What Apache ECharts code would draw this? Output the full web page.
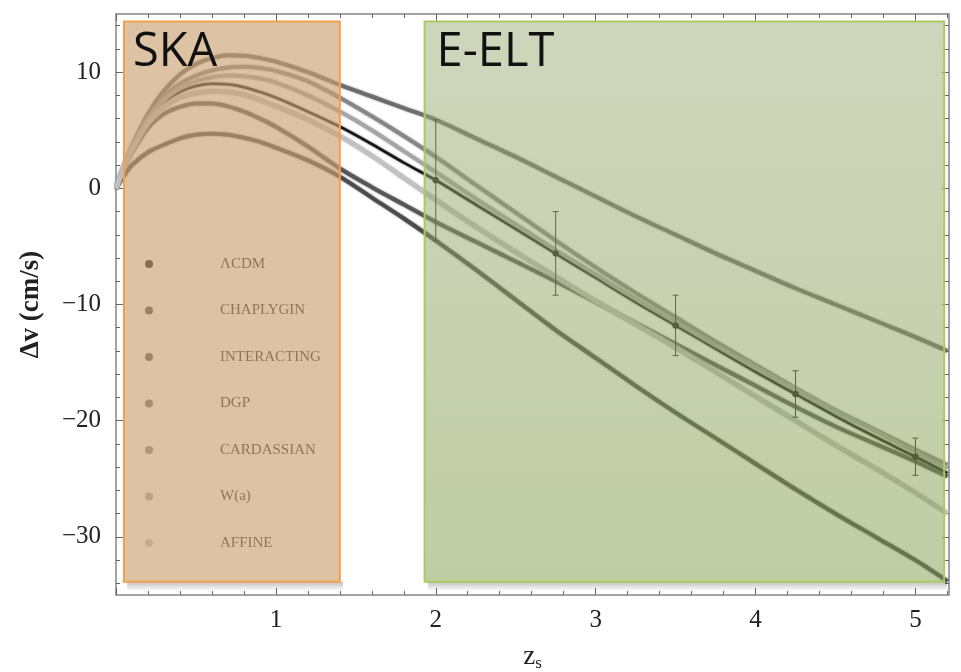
<!DOCTYPE html>
<html>
<head>
<meta charset="utf-8">
<script src="https://cdn.jsdelivr.net/npm/echarts@6/dist/echarts.min.js"></script>
<style>html,body{margin:0;padding:0;background:#fff}#c{width:961px;height:672px}</style>
</head>
<body>
<div id="c"></div>
<script>
// ---- data ----
const zGrid = [0, 0.05, 0.1, 0.2, 0.3, 0.4, 0.5, 0.6, 0.7, 0.8, 0.9, 1.0, 1.2, 1.4, 1.6, 1.8, 2.0, 2.25, 2.5, 2.75, 3.0, 3.25, 3.5, 3.75, 4.0, 4.25, 4.5, 4.75, 5.0, 5.2];
const lcdm        = [0, 1.85, 3.4, 5.9, 7.4, 8.3, 8.8, 9.0, 8.95, 8.7, 8.3, 7.8, 6.6, 5.3, 3.8, 2.2, 0.7, -1.4, -3.5, -5.6, -7.7, -9.8, -11.8, -13.8, -15.8, -17.7, -19.6, -21.4, -23.1, -24.5];
const chaplygin   = [0, 1.1, 2.0, 3.1, 3.75, 4.3, 4.6, 4.7, 4.6, 4.35, 4.0, 3.5, 2.4, 1.0, -0.8, -2.6, -4.5, -7.0, -9.6, -12.2, -14.6, -17.0, -19.3, -21.5, -23.7, -25.9, -28.0, -30.0, -32.0, -33.8];
const interacting = [0, 1.7, 3.1, 5.2, 6.4, 7.0, 7.3, 7.3, 7.05, 6.6, 6.0, 5.3, 3.6, 1.7, 0.1, -1.4, -2.9, -4.6, -6.3, -8.0, -9.8, -11.6, -13.4, -15.2, -17.0, -18.8, -20.5, -22.0, -23.5, -24.8];
const dgp         = [0, 1.9, 3.6, 6.4, 8.4, 9.8, 10.7, 11.2, 11.45, 11.4, 11.2, 10.9, 10.0, 8.9, 7.9, 6.9, 5.9, 4.3, 2.7, 1.0, -0.7, -2.4, -4.0, -5.6, -7.1, -8.6, -10.0, -11.4, -12.8, -14.0];
const cardassian  = [0, 1.9, 3.5, 6.1, 7.9, 9.0, 9.7, 10.15, 10.4, 10.45, 10.35, 10.1, 9.2, 7.8, 6.2, 4.5, 2.7, 0.3, -2.1, -4.5, -6.8, -9.0, -11.1, -13.2, -15.2, -17.2, -19.1, -20.8, -22.5, -23.8];
const wa          = [0, 1.85, 3.5, 6.0, 7.6, 8.6, 9.2, 9.55, 9.7, 9.65, 9.45, 9.1, 8.0, 6.6, 5.0, 3.2, 1.4, -0.9, -3.1, -5.3, -7.4, -9.5, -11.5, -13.5, -15.4, -17.3, -19.2, -20.9, -22.7, -24.1];
const affine      = [0, 1.8, 3.3, 5.6, 7.0, 7.8, 8.2, 8.35, 8.3, 8.05, 7.6, 7.05, 5.9, 4.5, 2.8, 0.9, -1.0, -3.3, -5.5, -7.6, -9.7, -11.7, -13.7, -15.8, -17.9, -20.0, -22.1, -24.1, -26.2, -28.0];

const seriesNames  = ['ΛCDM', 'CHAPLYGIN', 'INTERACTING', 'DGP', 'CARDASSIAN', 'W(a)', 'AFFINE'];
const seriesValues = [lcdm, chaplygin, interacting, dgp, cardassian, wa, affine];

const errZ     = [2.0, 2.75, 3.5, 4.25, 5.0];
const errV     = [0.7, -5.6, -11.8, -17.7, -23.1];
const errSigma = [5.2, 3.6, 2.6, 2.0, 1.6];

const xMajor  = [0, 1, 2, 3, 4, 5];
const xLabels = [1, 2, 3, 4, 5];
const xMinor  = [0.2, 0.4, 0.6, 0.8, 1.2, 1.4, 1.6, 1.8, 2.2, 2.4, 2.6, 2.8, 3.2, 3.4, 3.6, 3.8, 4.2, 4.4, 4.6, 4.8, 5.2];
const yMajor  = [-30, -20, -10, 0, 10];
const yMinor  = [-34, -32, -28, -26, -24, -22, -18, -16, -14, -12, -8, -6, -4, -2, 2, 4, 6, 8, 12, 14];

// ---- styles ----
const lineColors = ['#101010', '#4a4a4a', '#555555', '#6a6a6a', '#868686', '#a4a4a4', '#c0c0c0'];
const lineWidths = [2.5, 4, 4, 4, 4, 4, 5];
const frameColor = '#a3a3a3';
const tickColor = '#666';
const serif = 'Liberation Serif';

const chart = echarts.init(document.getElementById('c'), null, {renderer: 'canvas'});

function xAxisDef(pos, ticks, len, showLine, labels) {
  return {
    type: 'value', position: pos, min: 0, max: 5.21,
    axisLine: {show: showLine, onZero: false, lineStyle: {color: frameColor, width: 2}},
    axisTick: {show: true, inside: true, length: len, customValues: ticks, lineStyle: {color: tickColor, width: 1}},
    axisLabel: labels ? {show: true, customValues: labels, margin: 13, fontFamily: serif, fontSize: 25, color: '#222'} : {show: false},
    splitLine: {show: false}
  };
}
function yAxisDef(pos, ticks, len, showLine, labels) {
  return {
    type: 'value', position: pos, min: -35, max: 15,
    axisLine: {show: showLine, onZero: false, lineStyle: {color: frameColor, width: 2}},
    axisTick: {show: true, inside: true, length: len, customValues: ticks, lineStyle: {color: tickColor, width: 1}},
    axisLabel: labels ? {show: true, customValues: labels, margin: 15, fontFamily: serif, fontSize: 25, color: '#222',
      formatter: v => v < 0 ? '\u2212' + Math.abs(v) : String(v)} : {show: false},
    splitLine: {show: false}
  };
}

const xAxes = [
  xAxisDef('bottom', xMajor, 7, true, xLabels),
  xAxisDef('bottom', xMinor, 4, false, null),
  xAxisDef('top', xMajor, 7, true, null),
  xAxisDef('top', xMinor, 4, false, null)
];
Object.assign(xAxes[0], {
  name: '{z|z}{s|s}', nameLocation: 'middle', nameGap: 46,
  nameTextStyle: {rich: {z: {fontFamily: serif, fontSize: 27, color: '#222'}, s: {fontFamily: serif, fontSize: 17, color: '#222', verticalAlign: 'bottom', padding: [14, 0, 0, 0]}}}
});
const yAxes = [
  yAxisDef('left', yMajor, 7, true, yMajor),
  yAxisDef('left', yMinor, 4, false, null),
  yAxisDef('right', yMajor, 7, true, null),
  yAxisDef('right', yMinor, 4, false, null)
];
Object.assign(yAxes[0], {
  name: 'Δv (cm/s)', nameLocation: 'middle', nameGap: 71, nameRotate: 90,
  nameTextStyle: {fontFamily: serif, fontSize: 27, fontWeight: 'bold', color: '#222'}
});

const lineSeries = seriesNames.map((name, i) => ({
  name: name, type: 'line', z: 2,
  data: zGrid.map((z, k) => [z, seriesValues[i][k]]),
  smooth: 0.3, showSymbol: false, symbol: 'none',
  itemStyle: {color: lineColors[i]},
  lineStyle: {color: lineColors[i], width: lineWidths[i], opacity: 0.92, shadowBlur: 2, shadowColor: lineColors[i]},
  emphasis: {disabled: true}
}));

const errSeries = {
  type: 'custom', name: '_err', z: 3, silent: true,
  data: errZ.map((z, i) => [z, errV[i], errSigma[i]]),
  renderItem: function (params, api) {
    const c = api.coord([api.value(0), api.value(1)]);
    const t = api.coord([api.value(0), api.value(1) + api.value(2)]);
    const b = api.coord([api.value(0), api.value(1) - api.value(2)]);
    const st = {stroke: '#2a2a2a', lineWidth: 1};
    return {type: 'group', children: [
      {type: 'line', shape: {x1: c[0], y1: t[1], x2: c[0], y2: b[1]}, style: st},
      {type: 'line', shape: {x1: c[0] - 3, y1: t[1], x2: c[0] + 3, y2: t[1]}, style: st},
      {type: 'line', shape: {x1: c[0] - 3, y1: b[1], x2: c[0] + 3, y2: b[1]}, style: st},
      {type: 'circle', shape: {cx: c[0], cy: c[1], r: 3.2}, style: {fill: '#1a1a1a'}}
    ]};
  }
};

const shadowSeries = {
  type: 'line', name: '_shadow', z: 1, silent: true, data: [[0, 0]], symbol: 'none',
  lineStyle: {opacity: 0},
  markArea: {silent: true, z: 1, label: {show: false},
    itemStyle: {color: {type: 'linear', x: 0, y: 0, x2: 0, y2: 1, colorStops: [{offset: 0, color: 'rgba(0,0,0,0.25)'}, {offset: 1, color: 'rgba(0,0,0,0.02)'}]}},
    data: [
      [{xAxis: 0.07, yAxis: -33.85}, {xAxis: 1.42, yAxis: -34.6}],
      [{xAxis: 1.95, yAxis: -33.85}, {xAxis: 5.2, yAxis: -34.6}]
    ]}
};

const boxLabel = {show: true, fontFamily: 'Open Sans', fontSize: 47, color: '#111', formatter: '{b}'};
const overlaySeries = {
  type: 'line', name: '_boxes', z: 6, silent: true, data: [[0, 0]], symbol: 'none',
  lineStyle: {opacity: 0},
  markArea: {silent: true, z: 10,
    data: [
      [{name: 'SKA', xAxis: 0.05, yAxis: 14.35,
        itemStyle: {color: 'rgba(204,160,113,0.64)', borderColor: '#f2a04e', borderWidth: 2},
        label: Object.assign({}, boxLabel, {position: [10, 9]})},
       {xAxis: 1.40, yAxis: -33.85}],
      [{name: 'E-ELT', xAxis: 1.93, yAxis: 14.35,
        itemStyle: {color: {type: 'linear', x: 0, y: 0, x2: 0, y2: 1, colorStops: [
          {offset: 0, color: 'rgba(160,172,122,0.5)'}, {offset: 1, color: 'rgba(130,155,74,0.5)'}]},
          borderColor: '#a9cc62', borderWidth: 2},
        label: Object.assign({}, boxLabel, {position: [13, 9]})},
       {xAxis: 5.18, yAxis: -33.85}]
    ]}
};

chart.setOption({
  animation: false,
  backgroundColor: '#fff',
  grid: {left: 116, right: 12, top: 14, bottom: 77, containLabel: false, outerBoundsMode: 'none'},
  xAxis: xAxes,
  yAxis: yAxes,
  legend: {
    z: 3, orient: 'vertical', left: 140, top: 251, itemWidth: 8, itemHeight: 8, itemGap: 30.5,
    icon: 'circle', selectedMode: false,
    data: seriesNames,
    formatter: n => '{g|}' + n,
    textStyle: {fontFamily: serif, fontSize: 15, color: '#2a2a2a', lineHeight: 16, rich: {g: {width: 62}}}
  },
  series: [shadowSeries].concat(lineSeries, [errSeries, overlaySeries])
});
</script>
</body>
</html>
